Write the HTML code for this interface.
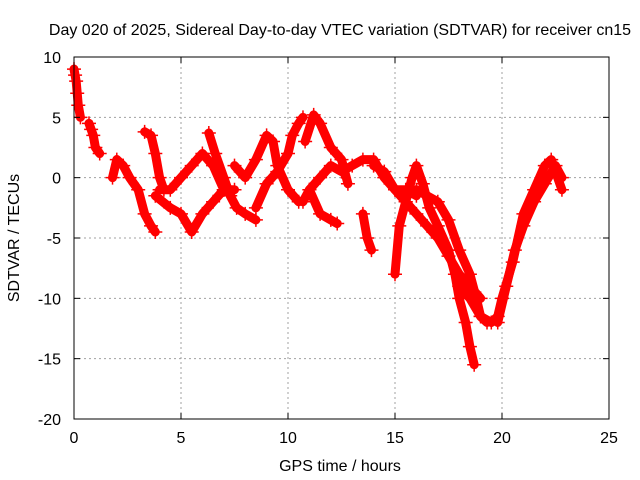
<!DOCTYPE html>
<html><head><meta charset="utf-8"><style>
body{margin:0;background:#fff;}
svg{display:block;font-family:"Liberation Sans",sans-serif;}
</style></head><body>
<svg id="chart" width="640" height="480">
<text x="340" y="35" font-size="16" text-anchor="middle">Day 020 of 2025, Sidereal Day-to-day VTEC variation (SDTVAR) for receiver cn15</text>
<g id="grid"></g>
<g id="series"></g>
<rect x="74" y="57" width="535" height="362" fill="none" stroke="#000" stroke-width="1"/>
<g id="ticks"></g>
<text x="340" y="471" font-size="16" text-anchor="middle">GPS time / hours</text>
<text transform="translate(19,238) rotate(-90)" font-size="16" text-anchor="middle">SDTVAR / TECUs</text>
</svg>
<script>
const xTicks=[0,5,10,15,20,25];
const yTicks=[10,5,0,-5,-10,-15,-20];
const trackA=[[0,9],[0.05,8.5],[0.1,8],[0.15,7],[0.2,6],[0.3,5]];
const trackB=[[0.7,4.5],[0.8,4],[0.9,3.5],[1.0,2.5],[1.2,2]];
const trackC=[[1.8,0],[2.0,1.5],[2.3,1],[2.6,0],[3.0,-1],[3.3,-3],[3.6,-4],[3.8,-4.5]];
const trackD=[[3.3,3.8],[3.6,3.5],[3.8,2],[4,0],[4.2,-1]];
const trackE=[[4,-1],[4.5,-1],[5,0],[5.5,1],[6,2],[6.5,1],[7,-1],[7.5,-1]];
const trackF=[[3.8,-1.5],[4.5,-2.5],[5,-3],[5.5,-4.5],[6,-3],[6.5,-2],[7,-1]];
const trackG=[[6.3,3.7],[6.6,2],[7,0],[7.3,-1.5],[7.6,-2.5],[8,-3],[8.5,-3.5]];
const trackH=[[7.5,1],[8,0],[8.5,1.5],[9,3.5],[9.3,3],[9.5,1],[10,-1],[10.5,-2]];
const trackI=[[8.5,-2.5],[9,-0.5],[9.5,0.5],[10,2],[10.2,3.5],[10.5,4.5],[10.7,5]];
const trackJ=[[10.7,-2],[11,-1],[11.5,0],[12,1],[12.5,0.5],[13,1],[13.5,1.5],[14,1.5],[14.5,0],[15,-1],[15.5,-1],[16,-1.5]];
const trackK=[[10.8,3],[11.2,5.2],[11.5,4.5],[12,2.5],[12.5,1.5],[12.8,-0.5]];
const trackL=[[11,-1],[11.5,-3],[12,-3.5],[12.3,-3.8]];
const trackM=[[13.5,-3],[13.7,-5],[13.9,-6]];
const trackN=[[15,-8],[15.2,-4],[15.5,-2],[15.8,0],[16,1],[16.3,-0.5],[16.6,-2.5],[17,-4],[17.5,-6],[17.8,-8],[18,-10],[18.3,-12],[18.5,-14],[18.7,-15.5]];
const trackO=[[14,1],[14.5,0.5],[15,-1],[15.5,-2],[16,-3],[16.5,-4],[17,-5],[17.5,-6.5],[18,-8],[18.5,-9],[19,-10]];
const trackP=[[16,-1],[16.5,-1.5],[17,-2],[17.5,-3.5],[18,-6],[18.5,-8],[18.8,-10],[19,-11.5],[19.3,-12]];
const trackQ=[[18,-9],[18.5,-10],[19,-11.5],[19.5,-12],[19.8,-11.5],[20,-10],[20.5,-7],[21,-3],[21.5,-1],[22,1],[22.3,1.5],[22.6,0],[22.8,-1]];
const trackR=[[19.8,-12],[20.2,-9],[20.6,-6],[21,-4],[21.5,-2],[22,-0.5],[22.5,1],[22.8,0]];
const tracks=[trackA,trackB,trackC,trackD,trackE,trackF,trackG,trackH,trackI,trackJ,trackK,trackL,trackM,trackN,trackO,trackP,trackQ,trackR];

const NS="http://www.w3.org/2000/svg";
const X0=74,X1=609,Y0=419,Y1=57;
function xs(v){return X0+(v-0)/(25-0)*(X1-X0);}
function ys(v){return Y0-(v+20)/(30)*(Y0-Y1);}
function mk(tag,attrs,parent){const e=document.createElementNS(NS,tag);for(const k in attrs)e.setAttribute(k,attrs[k]);parent.appendChild(e);return e;}
const grid=document.getElementById('grid'),ticks=document.getElementById('ticks'),series=document.getElementById('series');
xTicks.forEach(t=>{
  const x=xs(t);
  if(t>0&&t<25){const g=mk('line',{x1:x,x2:x,y1:Y1,y2:Y0,stroke:'#a0a0a0','stroke-dasharray':'2,3'},grid);
  
  }
  mk('line',{x1:x,x2:x,y1:Y0,y2:Y0-6,stroke:'#000'},ticks);
  mk('line',{x1:x,x2:x,y1:Y1,y2:Y1+6,stroke:'#000'},ticks);
  const l=mk('text',{x:x,y:443,'font-size':16,'text-anchor':'middle'},ticks);l.textContent=t;
  
  
});
yTicks.forEach(t=>{
  const y=ys(t);
  if(t>-20&&t<10){const g=mk('line',{x1:X0,x2:X1,y1:y,y2:y,stroke:'#a0a0a0','stroke-dasharray':'2,3'},grid);
  
  }
  mk('line',{x1:X0,x2:X0+6,y1:y,y2:y,stroke:'#000'},ticks);
  mk('line',{x1:X1,x2:X1-6,y1:y,y2:y,stroke:'#000'},ticks);
  const l=mk('text',{x:61,y:y+6,'font-size':16,'text-anchor':'end'},ticks);l.textContent=t;
  
  
});
tracks.forEach(tr=>{
  const p=mk('polyline',{points:tr.map(d=>xs(d[0])+','+ys(d[1])).join(' '),fill:'none',stroke:'#ff0000','stroke-width':9,'stroke-linejoin':'round','stroke-linecap':'round'},series);
  
  
  tr.forEach(d=>{
    const cx=xs(d[0]),cy=ys(d[1]);
    const m=mk('path',{d:`M${cx-7},${cy}H${cx+7}M${cx},${cy-7}V${cy+7}`,stroke:'#ff0000','stroke-width':1.5},series);
    
    
  });
});
</script>
</body></html>
